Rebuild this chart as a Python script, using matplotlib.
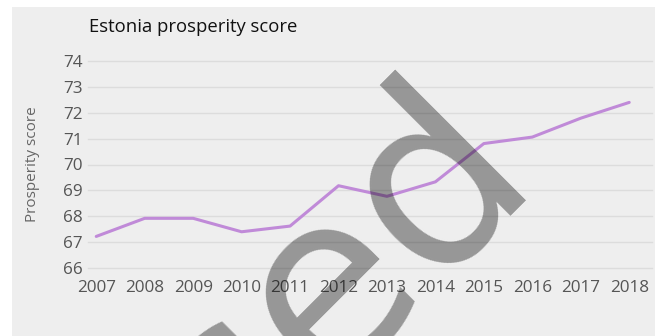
import matplotlib
matplotlib.use("Agg")
import matplotlib.pyplot as plt
from matplotlib.patches import Rectangle

years = [2007, 2008, 2009, 2010, 2011, 2012, 2013, 2014, 2015, 2016, 2017, 2018]
scores = [67.22, 67.92, 67.92, 67.40, 67.62, 69.18, 68.77, 69.33, 70.81, 71.06, 71.79, 72.40]
yticks = [66, 67, 68, 69, 70, 71, 72, 73, 74]

W, H = 655, 336
fig = plt.figure(figsize=(W / 100, H / 100), dpi=100)
fig.patch.set_facecolor("white")
fig.patches.append(Rectangle((12 / W, 0), 1 - 12 / W, 1 - 7 / H, transform=fig.transFigure,
                             facecolor="#eeeeee", edgecolor="none", zorder=-5))

plt.rcParams['font.family'] = ['Open Sans', 'DejaVu Sans']

ax = fig.add_axes([88 / W, 1 - 268 / H, (652 - 88) / W, (268 - 61) / H])
ax.set_facecolor("none")
ax.plot(years, scores, color="#c08ad8", lw=2.2, solid_capstyle="round", zorder=3)
ax.set_xlim(2006.83, 2018.47)
ax.set_ylim(66, 74)
ax.set_yticks(yticks)
ax.set_xticks(years)
ax.set_xticklabels([str(y) for y in years])
ax.grid(axis="y", color="#dcdcdc", lw=1.0)
ax.set_axisbelow(True)
for s in ax.spines.values():
    s.set_visible(False)
ax.tick_params(length=0, labelsize=12.3, labelcolor="#555555")
ax.tick_params(axis="y", pad=4)
ax.tick_params(axis="x", pad=9)
for gl in ax.get_ygridlines():
    gl.set_clip_on(False)
ax.set_ylabel("Prosperity score", fontsize=11, color="#666666")
ax.yaxis.set_label_coords(-(88 - 40) / (652 - 88), 0.5)

fig.text(89 / W, 1 - 27 / H, "Estonia prosperity score", fontsize=13.3, color="#111111",
         ha="left", va="center")

# watermark
fig.text(536 / W, 1 - 169 / H, "Used", fontsize=175, family="DejaVu Sans", color="black",
         alpha=0.37, rotation=45, rotation_mode="anchor", ha="right", va="baseline", zorder=10)

fig.savefig("out.png", dpi=100, facecolor="white")
